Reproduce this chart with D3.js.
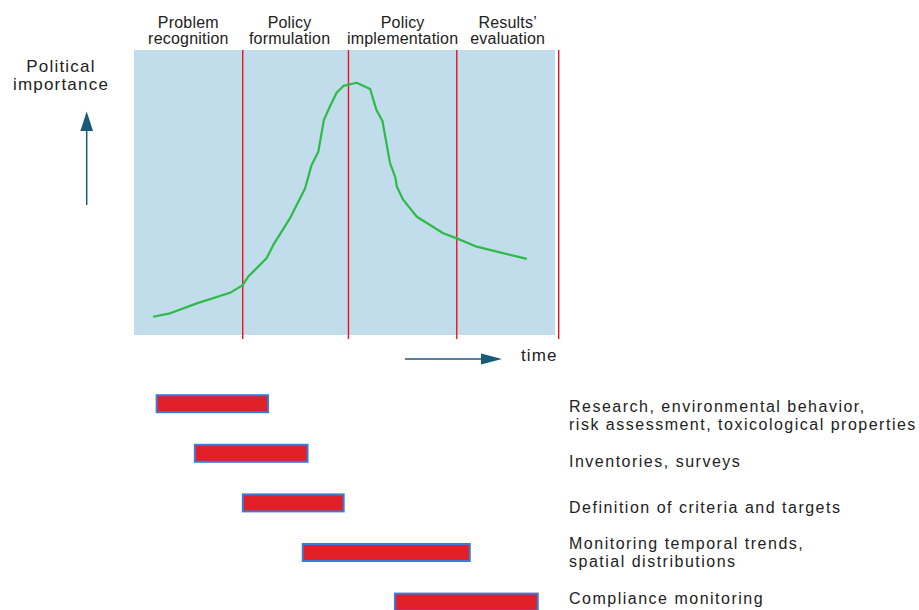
<!DOCTYPE html>
<html>
<head>
<meta charset="utf-8">
<script src="https://d3js.org/d3.v7.min.js"></script>
<style>
  body { margin: 0; background: #fff; }
  text { font-family: "Liberation Sans", Arial, sans-serif; fill: #222; }
</style>
</head>
<body>
<div id="chart"></div>
<script>
var svgWidth = 919;
var svgHeight = 610;

// phases along the time axis (time in 0..100 units)
var phaseNames = [["Problem", "recognition"], ["Policy", "formulation"], ["Policy", "implementation"], ["Results\u2019", "evaluation"]];
var phaseBounds = [0, 25.6, 50.5, 76, 100];

// political importance curve (time, importance 0..100)
var curveTime = [4.5, 8.5, 14.8, 22.6, 25.6, 26.9, 31.2, 32.8, 36.7, 40.3, 41.8, 43.4, 44.7, 46.1, 47.7, 49.3, 52.4, 55.6, 57.1, 58.5, 60.3, 61.5, 61.9, 63.4, 66.6, 72.8, 76.0, 80.7, 92.5];
var curveValue = [6.4, 7.6, 11.1, 14.8, 17.5, 20.5, 26.9, 31.6, 40.9, 51.5, 59.6, 64.3, 75.4, 80.1, 85.0, 87.4, 88.5, 86.3, 78.9, 75.1, 60.2, 55.5, 52.0, 47.4, 41.5, 35.7, 33.9, 31.0, 26.7];

// activities and their time spans
var activities = [
  ["Research, environmental behavior,", "risk assessment, toxicological properties"],
  ["Inventories, surveys"],
  ["Definition of criteria and targets"],
  ["Monitoring temporal trends,", "spatial distributions"],
  ["Compliance monitoring"]
];
var activityStart = [5.1, 14.1, 25.4, 39.5, 61.2];
var activityEnd = [31.8, 41.1, 49.6, 79.3, 95.3];

var svg = d3.select("#chart")
  .append("svg")
  .attr("width", svgWidth)
  .attr("height", svgHeight);

var x = d3.scaleLinear().domain([0, 100]).range([134, 558.7]);
var y = d3.scaleLinear().domain([0, 100]).range([335, 50]);

// background panel
svg.append("rect")
  .attr("x", x(0))
  .attr("y", y(100))
  .attr("width", x(99.15) - x(0))
  .attr("height", y(0) - y(100))
  .attr("fill", "#c1dceb");

// phase separators
svg.selectAll(".sep")
  .data(phaseBounds.slice(1))
  .enter()
  .append("line")
  .attr("class", "sep")
  .attr("x1", d => x(d))
  .attr("x2", d => x(d))
  .attr("y1", y(100))
  .attr("y2", y(0) + 4)
  .attr("stroke", "#e8141c")
  .attr("stroke-width", 1.4);

// phase labels
var phaseLabel = svg.selectAll(".phase")
  .data(phaseNames)
  .enter()
  .append("text")
  .attr("class", "phase")
  .attr("text-anchor", "middle")
  .style("font-size", "16px")
  .style("letter-spacing", "0.2px");

phaseLabel.each(function(d, i) {
  var cx = (x(phaseBounds[i]) + x(phaseBounds[i + 1])) / 2;
  if (i === 1) cx -= 6;
  d3.select(this).selectAll("tspan")
    .data(d)
    .enter()
    .append("tspan")
    .attr("x", cx)
    .attr("y", (t, j) => 28.3 + j * 15.2)
    .text(t => t);
});

// importance curve
var line = d3.line()
  .x(d => x(d[0]))
  .y(d => y(d[1]));

svg.append("path")
  .datum(d3.zip(curveTime, curveValue))
  .attr("d", line)
  .attr("fill", "none")
  .attr("stroke", "#2dbb48")
  .attr("stroke-width", 2.2)
  .attr("stroke-linejoin", "round");

// axis arrows
var arrowColor = "#195a78";
svg.append("line")
  .attr("x1", 86.7).attr("x2", 86.7)
  .attr("y1", 205).attr("y2", 128)
  .attr("stroke", arrowColor).attr("stroke-width", 1.5);
svg.append("path")
  .attr("d", "M86.7,111.5 L93,131 L80.4,131 Z")
  .attr("fill", arrowColor);

svg.append("line")
  .attr("x1", 405).attr("x2", 484)
  .attr("y1", 359).attr("y2", 359)
  .attr("stroke", arrowColor).attr("stroke-width", 1.5);
svg.append("path")
  .attr("d", "M502,359 L481,353.5 L481,364.5 Z")
  .attr("fill", arrowColor);

// axis labels
svg.append("text")
  .attr("text-anchor", "middle")
  .style("font-size", "17px")
  .style("letter-spacing", "1.2px")
  .selectAll("tspan")
  .data(["Political", "importance"])
  .enter()
  .append("tspan")
  .attr("x", 61)
  .attr("y", (d, i) => 71.7 + i * 17.8)
  .text(d => d);

svg.append("text")
  .attr("x", 521)
  .attr("y", 361)
  .style("font-size", "17px")
  .style("letter-spacing", "1.1px")
  .text("time");

// activity bars
var rowY = d3.scalePoint()
  .domain(d3.range(activities.length))
  .range([403.7, 602.1]);

var labelY = d3.scalePoint()
  .domain(d3.range(activities.length))
  .range([421, 604]);

var barHeight = 17;

svg.selectAll(".bar")
  .data(activities)
  .enter()
  .append("rect")
  .attr("class", "bar")
  .attr("x", (d, i) => x(activityStart[i]) + 1)
  .attr("y", (d, i) => rowY(i) - barHeight / 2)
  .attr("width", (d, i) => x(activityEnd[i]) - x(activityStart[i]) - 2)
  .attr("height", barHeight)
  .attr("fill", "#e01f28")
  .attr("stroke", "#3c7ad6")
  .attr("stroke-width", 2);

var actLabel = svg.selectAll(".act")
  .data(activities)
  .enter()
  .append("text")
  .attr("class", "act")
  .style("font-size", "16px")
  .style("letter-spacing", "1.5px");

actLabel.each(function(d, i) {
  var base = d.length > 1 ? labelY(i) - 9 : labelY(i);
  d3.select(this).selectAll("tspan")
    .data(d)
    .enter()
    .append("tspan")
    .attr("x", 569)
    .attr("y", (t, j) => base + j * 18)
    .text(t => t);
});
</script>
</body>
</html>
